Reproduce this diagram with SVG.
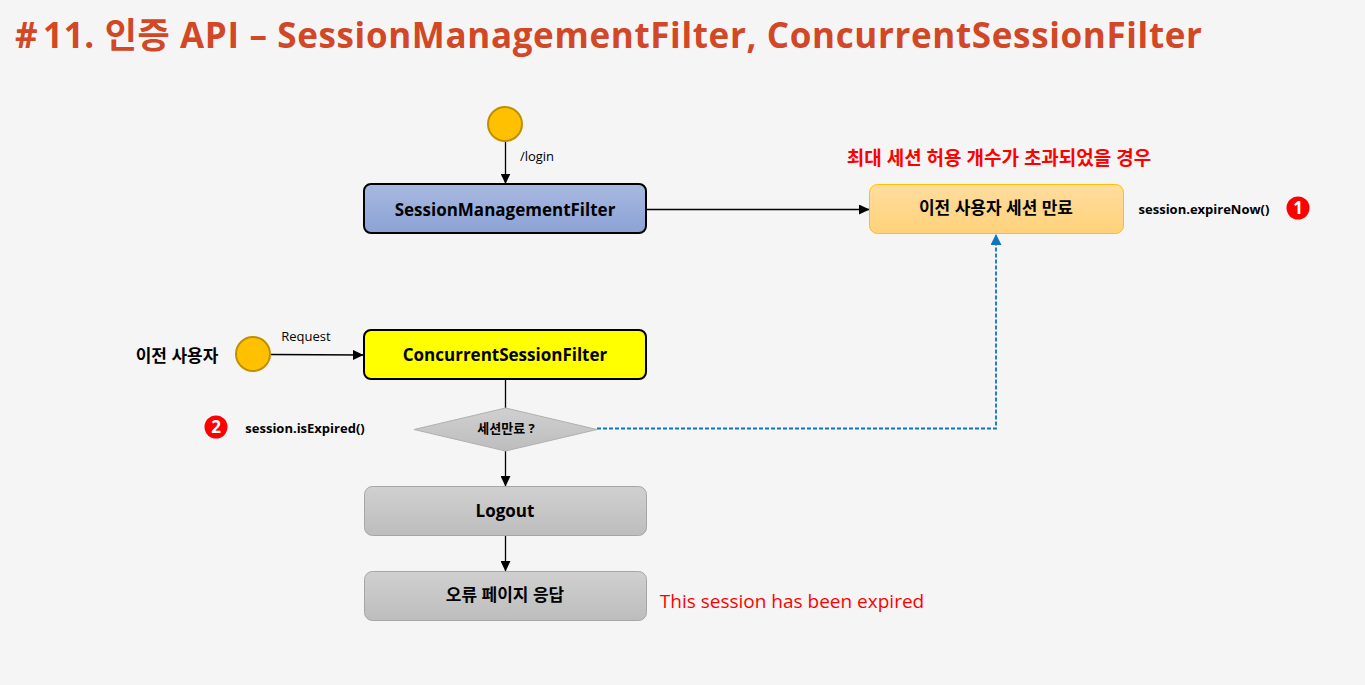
<svg xmlns="http://www.w3.org/2000/svg" width="1365" height="685" viewBox="0 0 1365 685">
<style>
text{font-family:"Open Sans","Noto Sans CJK KR","Noto Sans",sans-serif;fill:#000;text-anchor:middle}
.b{font-weight:700;font-size:17px}
.c{font-weight:700;font-size:13px}
.s{font-size:13px}
.red{fill:#f00}
.start{fill:#ffc000;stroke:#bf9000;stroke-width:2}
.cn{fill:none;stroke:#000;stroke-width:1.3}
.num{fill:#f00}
.numt{fill:#fff;font-size:17px;font-weight:700}
</style>
<defs>
<linearGradient id="blue" x1="0" y1="0" x2="0" y2="1"><stop offset="0" stop-color="#a9b9e0"/><stop offset="1" stop-color="#8ba2d6"/></linearGradient>
<linearGradient id="orange" x1="0" y1="0" x2="0" y2="1"><stop offset="0" stop-color="#ffdd9f"/><stop offset="1" stop-color="#ffd27a"/></linearGradient>
<linearGradient id="gray" x1="0" y1="0" x2="0" y2="1"><stop offset="0" stop-color="#d0d0d0"/><stop offset="1" stop-color="#bdbdbd"/></linearGradient>
<marker id="ah" markerUnits="userSpaceOnUse" markerWidth="11" markerHeight="10" refX="10.5" refY="5" orient="auto"><path d="M0 0L10.500 5L0 10Z" fill="#000"/></marker>
<marker id="ahb" markerUnits="userSpaceOnUse" markerWidth="11" markerHeight="11" refX="11" refY="5.500" orient="auto"><path d="M0 0L11 5.500L0 11Z" fill="#0f75bd"/></marker>
</defs>
<rect width="1365" height="685" fill="#f5f5f5"/>
<text x="15" y="48" style="font-size:35px;font-weight:700;fill:#d24726;text-anchor:start">#</text>
<text x="43" y="48" style="font-size:35px;font-weight:700;fill:#d24726;text-anchor:start" textLength="1159" lengthAdjust="spacing">11. 인증 API – SessionManagementFilter, ConcurrentSessionFilter</text>
<g id="connectors">
<path class="cn" d="M505.500 141V184" marker-end="url(#ah)"/>
<path class="cn" d="M647 209.500H869.500" marker-end="url(#ah)"/>
<path class="cn" d="M271 354.500L363.500 355" marker-end="url(#ah)"/>
<path class="cn" d="M505.500 380V408"/>
<path class="cn" d="M505.500 451V486.500" marker-end="url(#ah)"/>
<path class="cn" d="M505.500 536V571.500" marker-end="url(#ah)"/>
<path d="M597 428.500H996V234" fill="none" stroke="#0f75bd" stroke-width="1.800" stroke-dasharray="4 2" marker-end="url(#ahb)"/>
</g>
<g id="start-login"><circle class="start" cx="505" cy="124" r="17"/></g>
<text id="label-login" class="s" x="537" y="161">/login</text>
<g id="session-management-filter"><rect x="364" y="184" width="282" height="49" rx="7" fill="url(#blue)" stroke="#000" stroke-width="2"/><text class="b" x="505" y="216">SessionManagementFilter</text></g>
<text id="label-max" x="999" y="165" style="font-size:19px;font-weight:700;fill:#f00">최대 세션 허용 개수가 초과되었을 경우</text>
<g id="expire-prev"><rect x="869.500" y="184.500" width="254" height="49" rx="8" fill="url(#orange)" stroke="#ffc000"/><text class="b" x="996" y="214">이전 사용자 세션 만료</text></g>
<text id="label-expire-now" class="c" x="1204" y="214">session.expireNow()</text>
<g id="badge-1"><circle class="num" cx="1298" cy="208" r="11.500"/><text class="numt" x="1298" y="214">1</text></g>
<g id="start-user"><circle class="start" cx="253" cy="354" r="17"/></g>
<text id="label-user" class="b" x="177" y="362">이전 사용자</text>
<text id="label-request" class="s" x="306" y="341">Request</text>
<g id="concurrent-session-filter"><rect x="364" y="330" width="282" height="49" rx="7" fill="#ff0" stroke="#000" stroke-width="2"/><text class="b" x="505" y="361">ConcurrentSessionFilter</text></g>
<g id="badge-2"><circle class="num" cx="216" cy="427" r="11.500"/><text class="numt" x="216" y="433">2</text></g>
<text id="label-is-expired" class="c" x="305" y="433">session.isExpired()</text>
<g id="decision"><polygon points="505.500,408 597,429.500 505.500,451 414,429.500" fill="url(#gray)" stroke="#b0b0b0"/><text class="c" x="506" y="433">세션만료 ?</text></g>
<g id="logout"><rect x="364.500" y="486.500" width="282" height="49" rx="8" fill="url(#gray)" stroke="#a6a6a6"/><text class="b" x="505" y="517">Logout</text></g>
<g id="error-page"><rect x="364.500" y="571.500" width="282" height="49" rx="8" fill="url(#gray)" stroke="#a6a6a6"/><text class="b" x="505" y="601">오류 페이지 응답</text></g>
<text id="label-expired" x="792" y="608" style="font-size:19px;fill:#f00">This session has been expired</text>
</svg>
